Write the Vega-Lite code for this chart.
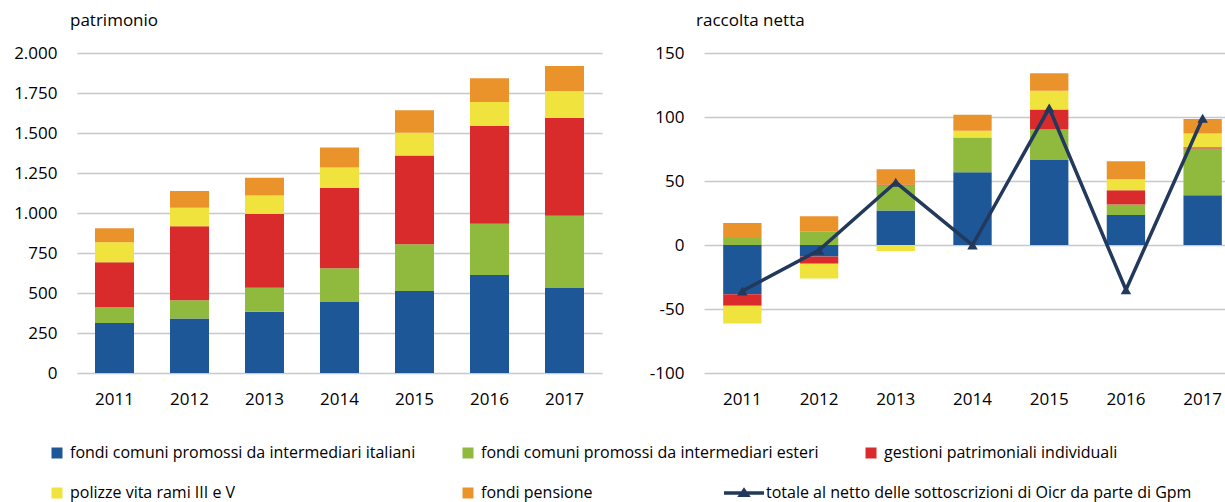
{
  "$schema": "https://vega.github.io/schema/vega-lite/v6.json",
  "background": "white",
  "padding": {"left": 0, "top": 12, "right": 0, "bottom": 0},
  "spacing": 47,
  "config": {
    "font": "Open Sans",
    "view": {"stroke": null},
    "title": {"font": "Open Sans", "fontSize": 17, "fontWeight": "normal", "color": "#000000", "anchor": "start", "frame": "group", "offset": 14},
    "axis": {"labelFont": "Open Sans", "labelFontSize": 17, "labelColor": "#000000"}
  },
  "datasets": {
    "pat": [
      {"anno": "2011", "serie": "fondi comuni promossi da intermediari italiani", "ord": 1, "valore": 312},
      {"anno": "2011", "serie": "fondi comuni promossi da intermediari esteri", "ord": 2, "valore": 100},
      {"anno": "2011", "serie": "gestioni patrimoniali individuali", "ord": 3, "valore": 280},
      {"anno": "2011", "serie": "polizze vita rami III e V", "ord": 4, "valore": 125},
      {"anno": "2011", "serie": "fondi pensione", "ord": 5, "valore": 87},
      {"anno": "2012", "serie": "fondi comuni promossi da intermediari italiani", "ord": 1, "valore": 340},
      {"anno": "2012", "serie": "fondi comuni promossi da intermediari esteri", "ord": 2, "valore": 114},
      {"anno": "2012", "serie": "gestioni patrimoniali individuali", "ord": 3, "valore": 463},
      {"anno": "2012", "serie": "polizze vita rami III e V", "ord": 4, "valore": 116},
      {"anno": "2012", "serie": "fondi pensione", "ord": 5, "valore": 104},
      {"anno": "2013", "serie": "fondi comuni promossi da intermediari italiani", "ord": 1, "valore": 383},
      {"anno": "2013", "serie": "fondi comuni promossi da intermediari esteri", "ord": 2, "valore": 150},
      {"anno": "2013", "serie": "gestioni patrimoniali individuali", "ord": 3, "valore": 461},
      {"anno": "2013", "serie": "polizze vita rami III e V", "ord": 4, "valore": 116},
      {"anno": "2013", "serie": "fondi pensione", "ord": 5, "valore": 111},
      {"anno": "2014", "serie": "fondi comuni promossi da intermediari italiani", "ord": 1, "valore": 444},
      {"anno": "2014", "serie": "fondi comuni promossi da intermediari esteri", "ord": 2, "valore": 210},
      {"anno": "2014", "serie": "gestioni patrimoniali individuali", "ord": 3, "valore": 502},
      {"anno": "2014", "serie": "polizze vita rami III e V", "ord": 4, "valore": 129},
      {"anno": "2014", "serie": "fondi pensione", "ord": 5, "valore": 125},
      {"anno": "2015", "serie": "fondi comuni promossi da intermediari italiani", "ord": 1, "valore": 512},
      {"anno": "2015", "serie": "fondi comuni promossi da intermediari esteri", "ord": 2, "valore": 292},
      {"anno": "2015", "serie": "gestioni patrimoniali individuali", "ord": 3, "valore": 556},
      {"anno": "2015", "serie": "polizze vita rami III e V", "ord": 4, "valore": 142},
      {"anno": "2015", "serie": "fondi pensione", "ord": 5, "valore": 140},
      {"anno": "2016", "serie": "fondi comuni promossi da intermediari italiani", "ord": 1, "valore": 612},
      {"anno": "2016", "serie": "fondi comuni promossi da intermediari esteri", "ord": 2, "valore": 321},
      {"anno": "2016", "serie": "gestioni patrimoniali individuali", "ord": 3, "valore": 611},
      {"anno": "2016", "serie": "polizze vita rami III e V", "ord": 4, "valore": 150},
      {"anno": "2016", "serie": "fondi pensione", "ord": 5, "valore": 148},
      {"anno": "2017", "serie": "fondi comuni promossi da intermediari italiani", "ord": 1, "valore": 531},
      {"anno": "2017", "serie": "fondi comuni promossi da intermediari esteri", "ord": 2, "valore": 452},
      {"anno": "2017", "serie": "gestioni patrimoniali individuali", "ord": 3, "valore": 613},
      {"anno": "2017", "serie": "polizze vita rami III e V", "ord": 4, "valore": 166},
      {"anno": "2017", "serie": "fondi pensione", "ord": 5, "valore": 157}
    ],
    "rac": [
      {"anno": "2011", "serie": "fondi comuni promossi da intermediari italiani", "ord": 1, "valore": -38.4},
      {"anno": "2011", "serie": "fondi comuni promossi da intermediari esteri", "ord": 2, "valore": 5.5},
      {"anno": "2011", "serie": "gestioni patrimoniali individuali", "ord": 3, "valore": -9.1},
      {"anno": "2011", "serie": "polizze vita rami III e V", "ord": 4, "valore": -13.8},
      {"anno": "2011", "serie": "fondi pensione", "ord": 5, "valore": 11.7},
      {"anno": "2012", "serie": "fondi comuni promossi da intermediari italiani", "ord": 1, "valore": -8.9},
      {"anno": "2012", "serie": "fondi comuni promossi da intermediari esteri", "ord": 2, "valore": 10.4},
      {"anno": "2012", "serie": "gestioni patrimoniali individuali", "ord": 3, "valore": -5.7},
      {"anno": "2012", "serie": "polizze vita rami III e V", "ord": 4, "valore": -11.5},
      {"anno": "2012", "serie": "fondi pensione", "ord": 5, "valore": 12},
      {"anno": "2013", "serie": "fondi comuni promossi da intermediari italiani", "ord": 1, "valore": 26.9},
      {"anno": "2013", "serie": "fondi comuni promossi da intermediari esteri", "ord": 2, "valore": 19.5},
      {"anno": "2013", "serie": "gestioni patrimoniali individuali", "ord": 3, "valore": 0.8},
      {"anno": "2013", "serie": "polizze vita rami III e V", "ord": 4, "valore": -4.7},
      {"anno": "2013", "serie": "fondi pensione", "ord": 5, "valore": 12},
      {"anno": "2014", "serie": "fondi comuni promossi da intermediari italiani", "ord": 1, "valore": 56.9},
      {"anno": "2014", "serie": "fondi comuni promossi da intermediari esteri", "ord": 2, "valore": 27.1},
      {"anno": "2014", "serie": "gestioni patrimoniali individuali", "ord": 3, "valore": 0},
      {"anno": "2014", "serie": "polizze vita rami III e V", "ord": 4, "valore": 5.2},
      {"anno": "2014", "serie": "fondi pensione", "ord": 5, "valore": 12.5},
      {"anno": "2015", "serie": "fondi comuni promossi da intermediari italiani", "ord": 1, "valore": 66.5},
      {"anno": "2015", "serie": "fondi comuni promossi da intermediari esteri", "ord": 2, "valore": 23.8},
      {"anno": "2015", "serie": "gestioni patrimoniali individuali", "ord": 3, "valore": 15.6},
      {"anno": "2015", "serie": "polizze vita rami III e V", "ord": 4, "valore": 14.6},
      {"anno": "2015", "serie": "fondi pensione", "ord": 5, "valore": 13.6},
      {"anno": "2016", "serie": "fondi comuni promossi da intermediari italiani", "ord": 1, "valore": 23.5},
      {"anno": "2016", "serie": "fondi comuni promossi da intermediari esteri", "ord": 2, "valore": 8.1},
      {"anno": "2016", "serie": "gestioni patrimoniali individuali", "ord": 3, "valore": 11.2},
      {"anno": "2016", "serie": "polizze vita rami III e V", "ord": 4, "valore": 8.6},
      {"anno": "2016", "serie": "fondi pensione", "ord": 5, "valore": 14.1},
      {"anno": "2017", "serie": "fondi comuni promossi da intermediari italiani", "ord": 1, "valore": 38.9},
      {"anno": "2017", "serie": "fondi comuni promossi da intermediari esteri", "ord": 2, "valore": 36.5},
      {"anno": "2017", "serie": "gestioni patrimoniali individuali", "ord": 3, "valore": 1},
      {"anno": "2017", "serie": "polizze vita rami III e V", "ord": 4, "valore": 10.7},
      {"anno": "2017", "serie": "fondi pensione", "ord": 5, "valore": 11.3}
    ],
    "tot": [
      {"anno": "2011", "serie": "totale al netto delle sottoscrizioni di Oicr da parte di Gpm", "valore": -36},
      {"anno": "2012", "serie": "totale al netto delle sottoscrizioni di Oicr da parte di Gpm", "valore": -4},
      {"anno": "2013", "serie": "totale al netto delle sottoscrizioni di Oicr da parte di Gpm", "valore": 49},
      {"anno": "2014", "serie": "totale al netto delle sottoscrizioni di Oicr da parte di Gpm", "valore": 0},
      {"anno": "2015", "serie": "totale al netto delle sottoscrizioni di Oicr da parte di Gpm", "valore": 107},
      {"anno": "2016", "serie": "totale al netto delle sottoscrizioni di Oicr da parte di Gpm", "valore": -35},
      {"anno": "2017", "serie": "totale al netto delle sottoscrizioni di Oicr da parte di Gpm", "valore": 99}
    ]
  },
  "hconcat": [
    {
      "width": 525,
      "height": 320,
      "title": {"text": "patrimonio", "dx": -7},
      "data": {"name": "pat"},
      "mark": {"type": "bar"},
      "encoding": {
        "x": {
          "field": "anno", "type": "ordinal",
          "scale": {"paddingInner": 0.48, "paddingOuter": 0.24},
          "axis": {"title": null, "labelAngle": 0, "domain": false, "ticks": false, "labelPadding": 18, "grid": false}
        },
        "y": {
          "field": "valore", "type": "quantitative", "stack": "zero",
          "scale": {"domain": [0, 2000], "nice": false},
          "axis": {
            "title": null, "values": [0, 250, 500, 750, 1000, 1250, 1500, 1750, 2000],
            "labelExpr": "replace(format(datum.value, ','), ',', '.')",
            "grid": true, "gridColor": "#c8c8c8", "gridWidth": 1.5,
            "domain": false, "ticks": false, "labelPadding": 20,
            "minExtent": 77, "maxExtent": 77
          }
        },
        "color": {
          "field": "serie", "type": "nominal",
          "scale": {
            "domain": ["fondi comuni promossi da intermediari italiani", "fondi comuni promossi da intermediari esteri", "gestioni patrimoniali individuali", "polizze vita rami III e V", "fondi pensione"],
            "range": ["#1d5797", "#8fba3e", "#d92b2c", "#f0e33d", "#eb932b"]
          },
          "legend": {
            "orient": "none", "legendX": -28, "legendY": 392, "direction": "horizontal", "columns": 3,
            "title": null, "symbolType": "square", "symbolSize": 121, "symbolStrokeWidth": 0,
            "labelFont": "Open Sans", "labelFontSize": 16, "labelColor": "#000000", "labelOffset": 5,
            "labelLimit": 600, "columnPadding": 44, "rowPadding": 24
          }
        },
        "order": {"field": "ord", "type": "quantitative"}
      }
    },
    {
      "width": 526,
      "height": 320,
      "title": {"text": "raccolta netta", "dx": -8},
      "layer": [
        {
          "data": {"name": "rac"},
          "mark": {"type": "bar"},
          "encoding": {
            "x": {
              "field": "anno", "type": "ordinal",
              "scale": {"range": [0, 537], "paddingInner": 0.5, "paddingOuter": 0.25},
              "axis": {"title": null, "labelAngle": 0, "domain": false, "ticks": false, "labelPadding": 18, "grid": false}
            },
            "y": {
              "field": "valore", "type": "quantitative", "stack": "zero",
              "scale": {"domain": [-100, 150], "nice": false},
              "axis": {
                "title": null, "values": [-100, -50, 0, 50, 100, 150],
                "labelExpr": "'' + datum.value",
                "grid": true, "gridColor": "#c8c8c8", "gridWidth": 1.5,
                "domain": false, "ticks": false, "labelPadding": 20,
                "minExtent": 45, "maxExtent": 45
              }
            },
            "color": {"field": "serie", "type": "nominal"},
            "order": {"field": "ord", "type": "quantitative"}
          }
        },
        {
          "data": {"name": "tot"},
          "mark": {"type": "line", "strokeWidth": 3.5},
          "encoding": {
            "x": {"field": "anno", "type": "ordinal"},
            "y": {"field": "valore", "type": "quantitative"},
            "stroke": {
              "field": "serie", "type": "nominal",
              "scale": {"domain": ["totale al netto delle sottoscrizioni di Oicr da parte di Gpm"], "range": ["#22395c"]},
              "legend": {
                "orient": "none", "legendX": 645, "legendY": 418, "title": null,
                "symbolType": "M-1,0H1M-0.17,0.11L0,-0.13L0.17,0.11Z", "symbolSize": 1600,
                "symbolStrokeWidth": 3.5, "symbolFillColor": "#22395c",
                "labelFont": "Open Sans", "labelFontSize": 16, "labelColor": "#000000", "labelOffset": 0, "labelLimit": 600
              }
            }
          }
        },
        {
          "data": {"name": "tot"},
          "mark": {"type": "point", "shape": "triangle-up", "filled": true, "size": 110, "color": "#22395c", "opacity": 1},
          "encoding": {
            "x": {"field": "anno", "type": "ordinal"},
            "y": {"field": "valore", "type": "quantitative"}
          }
        }
      ]
    }
  ]
}
